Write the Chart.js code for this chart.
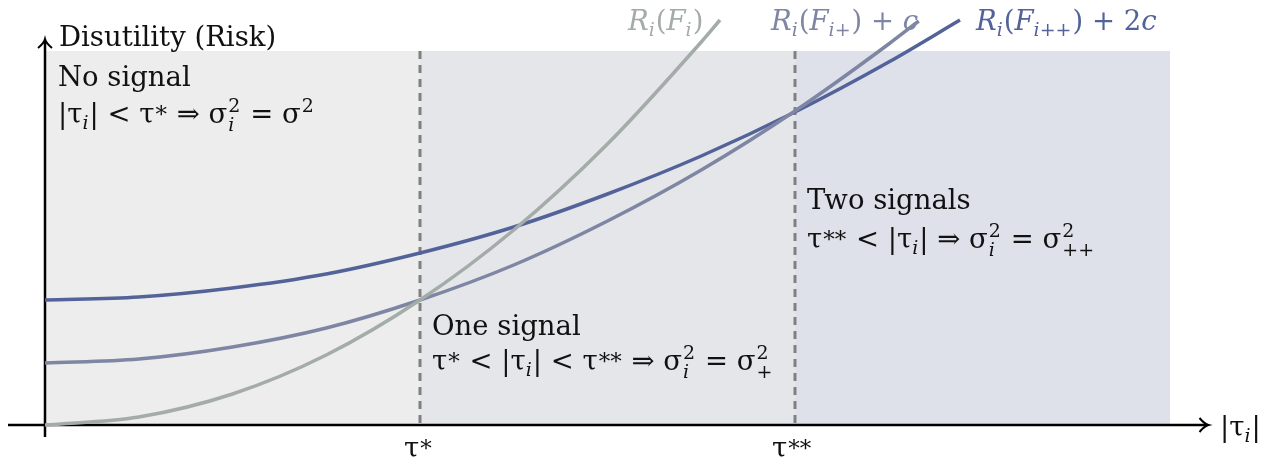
<!DOCTYPE html>
<html>
<head>
<meta charset="utf-8">
<script src="https://cdn.jsdelivr.net/npm/chart.js@4.4.0/dist/chart.umd.min.js"></script>
<style>
html, body { margin:0; padding:0; background:#fff; }
#wrap { width:1278px; height:465px; }
</style>
</head>
<body>
<div id="wrap"><canvas id="risk" width="1278" height="465"></canvas></div>
<script>
// curves (x in units of tau*, y in risk units)
var xsNone = [0, 0.25, 0.5, 0.75, 1, 1.25, 1.5, 1.75, 1.8];
var riskNone = [0, 0.08, 0.31, 0.70, 1.25, 1.95, 2.81, 3.83, 4.05];
var xsOne = [0, 0.25, 0.5, 0.75, 1, 1.25, 1.5, 1.75, 2, 2.25, 2.33];
var riskOne = [0.62, 0.66, 0.78, 0.97, 1.25, 1.60, 2.04, 2.55, 3.14, 3.81, 4.04];
var xsTwo = [0, 0.25, 0.5, 0.75, 1, 1.25, 1.5, 1.75, 2, 2.25, 2.44];
var riskTwo = [1.25, 1.28, 1.37, 1.51, 1.72, 1.98, 2.31, 2.69, 3.13, 3.63, 4.05];

var thresholds = [1, 2];          // tau*, tau**
var regionEdges = [0, 1, 2, 3];
var regionTop = 3.74;
var regionColors = ["#ecedec", "#e5e6ea", "#dee1ea"];
var curveColors = ["#a4aca8", "#7f86a3", "#53639a"];

var SERIF = '"DejaVu Serif", "Liberation Serif", serif';
var FS = 27.5;

function pts(xs, ys) {
  return xs.map(function (x, i) { return { x: x, y: ys[i] }; });
}

// draw a run of math-ish tokens: [text, mode]
// modes: r roman, i italic, bi sub italic, b sub roman, p sup roman, a asterisk sup, s stacked [sub, sup]
function mathRun(ctx, x, y, tokens, size, color) {
  ctx.fillStyle = color;
  ctx.textAlign = "left";
  ctx.textBaseline = "alphabetic";
  var small = Math.round(size * 0.7);
  tokens.forEach(function (tk) {
    var t = tk[0], m = tk[1] || "r";
    if (m === "r" || m === "i") {
      ctx.font = (m === "i" ? "italic " : "") + size + "px " + SERIF;
      ctx.fillText(t, x, y);
      x += ctx.measureText(t).width;
    } else if (m === "bi" || m === "b") {
      ctx.font = (m === "bi" ? "italic " : "") + small + "px " + SERIF;
      ctx.fillText(t, x, y + size * 0.22);
      x += ctx.measureText(t).width + 1;
    } else if (m === "p") {
      ctx.font = small + "px " + SERIF;
      ctx.fillText(t, x + 1, y - size * 0.4);
      x += ctx.measureText(t).width + 2;
    } else if (m === "a") {
      ctx.font = Math.round(size * 0.85) + "px " + SERIF;
      ctx.fillText(t, x + 1, y - size * 0.05);
      x += ctx.measureText(t).width + 2;
    } else if (m === "s") {
      ctx.font = "italic " + small + "px " + SERIF;
      ctx.fillText(t[0], x + 1, y + size * 0.28);
      var w1 = ctx.measureText(t[0]).width;
      ctx.font = small + "px " + SERIF;
      ctx.fillText(t[1], x + 1, y - size * 0.4);
      var w2 = ctx.measureText(t[1]).width;
      x += Math.max(w1, w2) + 2;
    }
  });
  return x;
}

var backdrop = {
  id: "backdrop",
  beforeDatasetsDraw: function (chart) {
    var ctx = chart.ctx, sx = chart.scales.x, sy = chart.scales.y;
    var y0 = sy.getPixelForValue(0), yTop = sy.getPixelForValue(regionTop);
    ctx.save();
    for (var k = 0; k < regionColors.length; k++) {
      var a = sx.getPixelForValue(regionEdges[k]), b = sx.getPixelForValue(regionEdges[k + 1]);
      ctx.fillStyle = regionColors[k];
      ctx.fillRect(a, yTop, b - a, y0 - yTop);
    }
    ctx.strokeStyle = "#808080";
    ctx.lineWidth = 3;
    ctx.setLineDash([8, 6]);
    thresholds.forEach(function (t) {
      var px = sx.getPixelForValue(t);
      ctx.beginPath();
      ctx.moveTo(px, yTop);
      ctx.lineTo(px, y0);
      ctx.stroke();
    });
    ctx.setLineDash([]);
    // axes with open arrow heads
    var x0 = sx.getPixelForValue(0);
    var xEnd = sx.getPixelForValue(3.1);
    ctx.strokeStyle = "#000";
    ctx.lineWidth = 2.5;
    ctx.beginPath();
    ctx.moveTo(8, y0); ctx.lineTo(xEnd, y0);
    ctx.moveTo(x0, y0 + 12); ctx.lineTo(x0, 41);
    ctx.stroke();
    ctx.lineWidth = 2;
    ctx.beginPath();
    ctx.moveTo(xEnd - 8, y0 - 7); ctx.quadraticCurveTo(xEnd - 3, y0 - 1, xEnd + 1, y0);
    ctx.quadraticCurveTo(xEnd - 3, y0 + 1, xEnd - 8, y0 + 7);
    ctx.moveTo(x0 - 7, 48); ctx.quadraticCurveTo(x0 - 1, 43, x0, 39);
    ctx.quadraticCurveTo(x0 + 1, 43, x0 + 7, 48);
    ctx.stroke();
    ctx.restore();
  },
  afterDraw: function (chart) {
    var ctx = chart.ctx, sx = chart.scales.x;
    var x0 = sx.getPixelForValue(0), t1 = sx.getPixelForValue(thresholds[0]), t2 = sx.getPixelForValue(thresholds[1]);
    var ink = "#111";
    ctx.save();
    mathRun(ctx, x0 + 14, 46, [["Disutility (Risk)"]], FS, ink);
    mathRun(ctx, x0 + 13, 86, [["No signal"]], FS, ink);
    mathRun(ctx, x0 + 13, 123, [["|τ"], ["i", "bi"], ["| < τ"], ["*", "a"], [" ⇒ σ"], [["i", "2"], "s"], [" = σ"], ["2", "p"]], FS, ink);

    mathRun(ctx, t1 + 12, 335, [["One signal"]], FS, ink);
    mathRun(ctx, t1 + 12, 370, [["τ"], ["*", "a"], [" < |τ"], ["i", "bi"], ["| < τ"], ["**", "a"], [" ⇒ σ"], [["i", "2"], "s"], [" = σ"], [["+", "2"], "s"]], FS, ink);

    mathRun(ctx, t2 + 12, 209, [["Two signals"]], FS, ink);
    mathRun(ctx, t2 + 12, 248, [["τ"], ["**", "a"], [" < |τ"], ["i", "bi"], ["| ⇒ σ"], [["i", "2"], "s"], [" = σ"], [["++", "2"], "s"]], FS, ink);

    // tick labels and axis label
    mathRun(ctx, t1 - 16, 457, [["τ"], ["*", "a"]], FS, ink);
    mathRun(ctx, t2 - 23, 457, [["τ"], ["**", "a"]], FS, ink);
    mathRun(ctx, 1220, 436, [["|τ"], ["i", "bi"], ["|"]], FS, ink);

    // curve names
    mathRun(ctx, 628, 30, [["R", "i"], ["i", "bi"], ["("], ["F", "i"], ["i", "bi"], [")"]], FS, curveColors[0]);
    mathRun(ctx, 771, 30, [["R", "i"], ["i", "bi"], ["("], ["F", "i"], ["i+", "bi"], [") + "], ["c", "i"]], FS, curveColors[1]);
    mathRun(ctx, 976, 30, [["R", "i"], ["i", "bi"], ["("], ["F", "i"], ["i++", "bi"], [") + 2"], ["c", "i"]], FS, curveColors[2]);
    ctx.restore();
  }
};

new Chart(document.getElementById("risk").getContext("2d"), {
  type: "line",
  data: {
    datasets: [
      { data: pts(xsNone, riskNone), borderColor: curveColors[0] },
      { data: pts(xsOne, riskOne), borderColor: curveColors[1] },
      { data: pts(xsTwo, riskTwo), borderColor: curveColors[2] }
    ]
  },
  options: {
    responsive: false,
    animation: false,
    layout: { padding: 0 },
    plugins: { legend: { display: false }, tooltip: { enabled: false } },
    scales: {
      x: { type: "linear", min: -0.12, max: 3.288, display: false },
      y: { min: -0.4, max: 4.25, display: false }
    },
    elements: {
      point: { radius: 0 },
      line: { borderWidth: 3.5, cubicInterpolationMode: "monotone", fill: false }
    }
  },
  plugins: [backdrop]
});
</script>
</body>
</html>
